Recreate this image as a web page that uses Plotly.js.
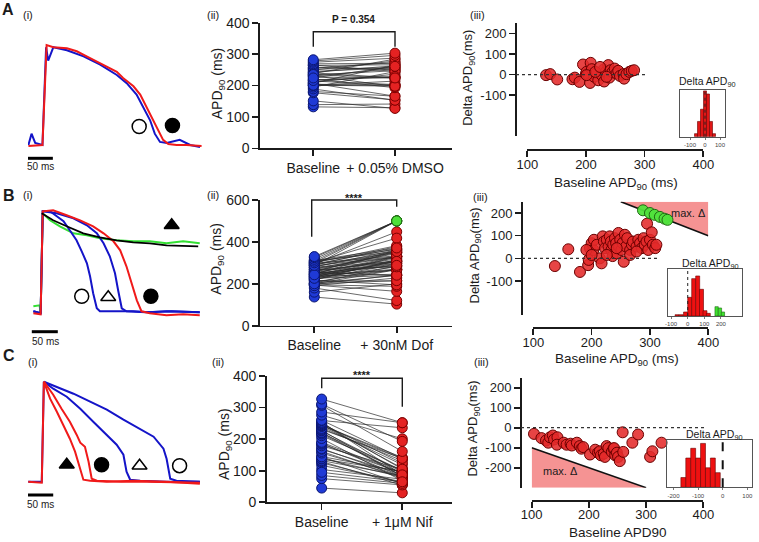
<!DOCTYPE html>
<html><head><meta charset="utf-8">
<script src="https://cdn.plot.ly/plotly-3.0.1.min.js"></script>
<style>html,body{margin:0;padding:0;background:#fff}#chart{width:759px;height:542px}</style>
</head><body><div id="chart"></div>
<script>
// ================= DATA =================
// Panel A(i): action potential traces (time ms, % amplitude)
const A_blue_t=[-28,-22,-15,-1,6,10,20,46,78,110,142,161,180,193,206,215,225,238,263,283,302];
const A_blue_v=[1,12,3,1,96,83,96,93,87,79,69,61,50,38,25,12,4,3,6,1,-1];
const A_red_t=[-28,-1,7,20,46,65,84,103,122,142,154,174,187,199,212,222,231,241,257,276,305];
const A_red_v=[0,1,98,96,95,92,87,82,77,72,66,58,50,38,25,14,6,2,1,1,0];
const A_sym_t=[185,249], A_sym_v=[19,20], A_sym=['circle-open','circle'];
// Panel B(i)
const B_blue1_t=[-16,-2,2,16,29,42,54,67,77,87,93,99,106,112,144,176,208,240,304];
const B_blue1_v=[2,0,102,102,97,92,83,73,62,50,37,20,5,2,2,2,1,2,1];
const B_blue2_t=[-16,-2,2,29,61,87,106,119,131,141,147,154,163,200,250,304];
const B_blue2_v=[2,0,102,100,95,88,80,70,57,40,23,5,2,1,2,1];
const B_red_t=[-16,-2,2,22,48,74,99,119,138,151,163,173,183,192,208,240,272,304];
const B_red_v=[0,-1,102,103,98,93,87,80,72,63,47,30,13,2,0,-2,-1,-2];
const B_green_t=[-16,-4,-2,2,16,35,61,87,112,144,176,208,240,272,304];
const B_green_v=[7,8,0,100,93,87,80,78,75,73,72,72,70,72,70];
const B_fit_t=[0,22,48,80,112,144,176,208,240,301];
const B_fit_v=[100,93,87,80,76,73,71,70,68,67];
const B_sym_t=[77,128,210,250], B_sym_v=[17,16,17,88], B_sym=['circle-open','triangle-up-open','circle','triangle-up'];
// Panel C(i)
const C_red1_t=[-29,-3,1,13,26,38,51,61,71,77,90,122,173,237,301];
const C_red1_v=[0,-1,100,83,70,57,43,30,13,2,1,0,1,0,-2];
const C_red2_t=[1,19,35,51,64,71,80,87,93,103,150,200,301];
const C_red2_v=[100,87,73,60,47,39,35,20,3,1,0,0,-1];
const C_blue1_t=[-29,-3,1,19,45,71,96,122,141,154,160,167,186,237,301];
const C_blue1_v=[0,0,100,93,85,73,60,47,37,27,10,2,1,0,0];
const C_blue2_t=[1,26,58,90,122,154,186,212,231,237,244,256,301];
const C_blue2_v=[100,95,88,80,72,62,53,45,33,23,3,1,0];
const C_sym_t=[45,112,185,262], C_sym_v=[17,17,16,16], C_sym=['triangle-up','circle','triangle-up-open','circle-open'];

// Panel A (ii)/(iii): baseline APD90 and delta APD90 (ms)
const A_groups=['Baseline','+ 0.05% DMSO'];
const A_base=[132,139,151,177,181,189,195,200,201,204,208,207,210,214,218,221,227,230,231,234,238,240,242,245,249,252,255,258,264,265,269,274,278,282,201,216,235,224];
const A_delta=[-3,2,-24,-23,-15,-36,49,2,13,-3,57,-41,26,-11,8,-28,-3,24,-34,13,46,-15,21,11,29,5,18,-7,2,-20,2,13,18,21,-3,13,-11,37];
// Panel B
const B_groups=['Baseline','+ 30nM Dof'];
const B_base=[137,160,180,194,195,197,200,203,204,209,214,217,219,221,223,226,229,231,233,234,236,237,240,242,243,246,247,249,251,253,255,257,259,261,266,269,271,277,280,283,286,289,291,294,295,297,300,303,305,309,311,191,200,226,266,277,243];
const B_delta=[-34,40,-60,-30,-7,45,67,37,82,60,0,-22,97,74,45,82,52,97,74,37,10,60,89,67,22,112,52,82,37,67,-15,104,52,89,37,60,74,52,82,67,45,89,60,74,153,37,82,115,60,45,60,37,15,15,15,30,45];
const B_gbase=[288,300,308,317,325,330];
const B_gdelta=[212,200,192,183,175,170];
const B_maxTri_x=[250,400,400], B_maxTri_y=[250,250,100];
// Panel C
const C_groups=['Baseline','+ 1\u03bcM Nif'];
const C_base=[104,117,125,129,132,137,139,145,144,156,161,168,170,179,184,187,190,202,211,216,219,221,226,228,231,234,240,243,244,246,249,251,254,259,260,276,286,307,311,327,45,75,85,95];
const C_delta=[-31,-52,-64,-75,-48,-39,-59,-48,-85,-75,-85,-80,-89,-75,-92,-105,-97,-134,-110,-125,-118,-138,-130,-146,-92,-102,-121,-105,-102,-138,-125,-146,-167,-23,-121,-75,-34,-146,-118,-75,-15,-20,-25,-30];
const C_maxTri_x=[100,100,300], C_maxTri_y=[-100,-300,-300];

// Inset histograms of delta APD90
const HA_x=[-60,-40,-20,0,20,40,60], HA_n=[1,5,9,15,14,5,1];
const HB_x=[-64,-39,-13,12,36,60,83,104,124], HB_n=[1,1,3,14,28,30,20,4,2];
const HB_gx=[174,194,212], HB_gn=[7,6,3];
const HC_x=[-160,-140,-120,-100,-80,-60,-40,-20], HC_n=[2,6,8,6,9,4,6,3];

// ================= BUILD =================
const W=759,H=542;
const FX=v=>v/W, FY=v=>1-v/H;
const xd=(a,b)=>[a/W,b/W];
const yd=(t,b)=>[1-b/H,1-t/H];
const FONT='"Liberation Sans", Arial, Helvetica, sans-serif';
const INK='#1b1b1b';
const id=n=>n===1?'':String(n);
const BLUE='#1414c8', RED='#f01a1a', GREEN='#33e033';

const traces=[];
function line(t,v,ax,color,w){traces.push({type:'scatter',mode:'lines',x:t,y:v,xaxis:'x'+id(ax),yaxis:'y'+id(ax),line:{color:color,width:w||2},hoverinfo:'skip'});}
function syms(t,v,s,ax){traces.push({type:'scatter',mode:'markers',x:t,y:v,xaxis:'x'+id(ax),yaxis:'y'+id(ax),cliponaxis:false,
  marker:{symbol:s,size:s.map(q=>q.indexOf('triangle')>=0?13:14),opacity:1,color:'#000',line:{color:'#000',width:1.5}},hoverinfo:'skip'});}
function paired(base,after,groups,ax){
  const x=[],y=[];
  for(let i=0;i<base.length;i++){x.push(groups[0],groups[1],null);y.push(base[i],after[i],null);}
  traces.push({type:'scatter',mode:'lines',x:x,y:y,xaxis:'x'+id(ax),yaxis:'y'+id(ax),line:{color:'#2a2a2a',width:0.7},connectgaps:false,hoverinfo:'skip'});
}
function groupPts(vals,group,ax,fill,edge,size){
  traces.push({type:'scatter',mode:'markers',x:vals.map(()=>group),y:vals,xaxis:'x'+id(ax),yaxis:'y'+id(ax),cliponaxis:false,
    marker:{size:size||10,opacity:1,color:fill,line:{color:edge,width:1}},hoverinfo:'skip'});
}
function scat(xv,yv,ax,fill,edge){
  traces.push({type:'scatter',mode:'markers',x:xv,y:yv,xaxis:'x'+id(ax),yaxis:'y'+id(ax),cliponaxis:false,
    marker:{size:11,opacity:1,color:fill,line:{color:edge,width:1}},hoverinfo:'skip'});
}
function hist(xv,n,w,ax,fill,edge){
  traces.push({type:'bar',x:xv,y:n,width:w,xaxis:'x'+id(ax),yaxis:'y'+id(ax),marker:{color:fill,line:{color:edge,width:0.6}},hoverinfo:'skip'});
}

// (i) traces
line(A_blue_t,A_blue_v,1,BLUE); line(A_red_t,A_red_v,1,RED); syms(A_sym_t,A_sym_v,A_sym,1);
line(B_green_t,B_green_v,5,GREEN); line(B_blue1_t,B_blue1_v,5,BLUE); line(B_blue2_t,B_blue2_v,5,BLUE);
line(B_red_t,B_red_v,5,RED); line(B_fit_t,B_fit_v,5,'#000',1.8); syms(B_sym_t,B_sym_v,B_sym,5);
line(C_blue1_t,C_blue1_v,9,BLUE); line(C_blue2_t,C_blue2_v,9,BLUE);
line(C_red1_t,C_red1_v,9,RED); line(C_red2_t,C_red2_v,9,RED); syms(C_sym_t,C_sym_v,C_sym,9);

// (ii) paired plots
const A_after=A_base.map((b,i)=>b+A_delta[i]);
const B_after=B_base.map((b,i)=>b+B_delta[i]);
const B_gafter=B_gbase.map((b,i)=>b+B_gdelta[i]);
const C_after=C_base.map((b,i)=>b+C_delta[i]);
const BLUEM='#1f3ad6', BLUEE='#0b1670', REDM='#e42222', REDE='#7a0000', GRM='#4ee03a', GRE='#1f6a12';
paired(A_base,A_after,A_groups,2); groupPts(A_base,A_groups[0],2,BLUEM,BLUEE); groupPts(A_after,A_groups[1],2,REDM,REDE);
paired(B_base.concat(B_gbase),B_after.concat(B_gafter),B_groups,6); groupPts(B_base.concat(B_gbase),B_groups[0],6,BLUEM,BLUEE);
groupPts(B_after,B_groups[1],6,REDM,REDE); groupPts(B_gafter,B_groups[1],6,GRM,GRE);
paired(C_base,C_after,C_groups,10); groupPts(C_base,C_groups[0],10,BLUEM,BLUEE); groupPts(C_after,C_groups[1],10,REDM,REDE);

// (iii) scatter
const SRED='rgba(228,42,42,0.88)', SEDGE='#6a0000';
scat(A_base,A_delta,3,SRED,SEDGE);
scat(B_base,B_delta,7,SRED,SEDGE); scat(B_gbase,B_gdelta,7,'rgba(80,225,60,0.95)',GRE);
scat(C_base,C_delta,11,SRED,SEDGE);

// insets
hist(HA_x,HA_n,20,4,'#e01616','#6a0000');
hist(HB_x,HB_n,24,8,'#ee1111','#6a0000'); hist(HB_gx,HB_gn,20,8,'#3fe02f','#1f6a12');
hist(HC_x,HC_n,20,12,'#ee1111','#6a0000');

// ---- layout ----
const layout={width:W,height:H,margin:{l:0,r:0,t:0,b:0},paper_bgcolor:'#fff',plot_bgcolor:'rgba(0,0,0,0)',
  showlegend:false,barmode:'overlay',font:{family:FONT,color:INK},shapes:[],annotations:[],hovermode:false};

function hidden(dom,range,anchor){return {domain:dom,range:range,anchor:anchor,visible:false,fixedrange:true};}
function catX(dom,range,anchor,cats){return {type:'category',categoryorder:'array',categoryarray:cats,domain:dom,range:range,anchor:anchor,
  showline:true,linecolor:INK,linewidth:1.6,ticks:'outside',ticklen:6,tickwidth:1.6,tickcolor:INK,tickfont:{size:14,color:INK},
  showgrid:false,zeroline:false,fixedrange:true};}
function numAx(dom,range,anchor,tickvals,size,pos,stand){const a={domain:dom,range:range,anchor:anchor,showline:true,linecolor:INK,linewidth:1.6,
  ticks:'outside',ticklen:6,tickwidth:1.6,tickcolor:INK,tickvals:tickvals,ticktext:tickvals.map(String),tickfont:{size:size,color:INK},
  showgrid:false,zeroline:false,fixedrange:true};
  if(pos!==undefined){a.anchor='free';a.position=pos;}
  if(stand!==undefined){a.ticklabelstandoff=stand;}
  return a;}
function insX(dom,range,anchor,tickvals){return {domain:dom,range:range,anchor:anchor,showline:true,mirror:true,linecolor:'#555',linewidth:1,
  ticks:'outside',ticklen:2,tickwidth:0.8,tickcolor:'#555',tickvals:tickvals,ticktext:tickvals.map(String),tickfont:{size:6,color:'#444'},
  showgrid:false,zeroline:false,fixedrange:true};}
function insY(dom,range,anchor){return {domain:dom,range:range,anchor:anchor,showline:true,mirror:true,linecolor:'#555',linewidth:1,
  ticks:'',showticklabels:false,showgrid:false,zeroline:false,fixedrange:true};}

// A
layout.xaxis=hidden(xd(28,202),[-28.8,305.8],'y');
layout.yaxis=hidden(yd(38,152),[-5.8,104.9],'x');
layout.xaxis2=catX(xd(260,452),[-0.652,1.698],'y2',A_groups);
layout.yaxis2=numAx(yd(22.7,148.3),[0,400],'x2',[0,100,200,300,400],14);
layout.xaxis3=numAx(xd(527.3,703.3),[100,400],'y3',[100,200,300,400],13,FY(149.3),-4);
layout.yaxis3=numAx(yd(23.3,136),[-300,250],'x3',[-100,0,100,200],13,FX(515));
layout.xaxis4=insX(xd(680,725),[-166.7,133.3],'y4',[-100,0,100]);
layout.yaxis4=insY(yd(90,136.7),[0,15.3],'x4');
// B
layout.xaxis5=hidden(xd(28,202),[-26.3,308.3],'y5');
layout.yaxis5=hidden(yd(205,320),[-6.7,108.3],'x5');
layout.xaxis6=catX(xd(260,452),[-0.659,1.671],'y6',B_groups);
layout.yaxis6=numAx(yd(200,325.7),[0,600],'x6',[0,200,400,600],14);
layout.xaxis7=numAx(xd(533.3,708.3),[100,400],'y7',[100,200,300,400],13,FY(327.3),-4);
layout.yaxis7=numAx(yd(201.7,315),[-250,250],'x7',[-100,0,100,200],13,FX(521));
layout.xaxis8=insX(xd(667.7,741.7),[-120.5,325],'y8',[-100,0,100,200]);
layout.yaxis8=insY(yd(269.3,316),[0,35],'x8');
// C
layout.xaxis9=hidden(xd(28,202),[-29.5,305.1],'y9');
layout.yaxis9=hidden(yd(375,490),[-8.3,106.7],'x9');
layout.xaxis10=catX(xd(266.7,452),[-0.682,1.617],'y10',C_groups);
layout.yaxis10=numAx(yd(376,502.3),[0,400],'x10',[0,100,200,300,400],14);
layout.xaxis11=numAx(xd(531.7,703.3),[100,400],'y11',[100,200,300,400],13,FY(500),-4);
layout.yaxis11=numAx(yd(377.7,487.7),[-300,250],'x11',[-200,-100,0,100,200],13,FX(520));
layout.xaxis12=insX(xd(667.3,751.7),[-225.2,117.9],'y12',[-200,-100,0,100]);
layout.yaxis12=insY(yd(440,487.3),[0,9.7],'x12');

// ---- shapes ----
const S=layout.shapes;
// scale bars (50 ms)
S.push({type:'line',xref:'x',yref:'paper',x0:-31,x1:19,y0:FY(158.3),y1:FY(158.3),line:{color:'#000',width:3}});
S.push({type:'line',xref:'x5',yref:'paper',x0:-19,x1:31,y0:FY(331.7),y1:FY(331.7),line:{color:'#000',width:3}});
S.push({type:'line',xref:'x9',yref:'paper',x0:-31,x1:19,y0:FY(495),y1:FY(495),line:{color:'#000',width:3}});
// significance brackets
function bracket(xl,xr,yt,yl,yr){S.push({type:'path',xref:'paper',yref:'paper',
  path:`M${FX(xl)},${FY(yl)} L${FX(xl)},${FY(yt)} L${FX(xr)},${FY(yt)} L${FX(xr)},${FY(yr)}`,line:{color:INK,width:1.4}});}
bracket(313.3,395,31.7,46.7,46.7);
bracket(311.7,396.7,200,236.7,206.7);
bracket(321.7,402.3,378.3,388.3,406.7);
// zero reference lines
S.push({type:'line',xref:'paper',yref:'y3',x0:FX(516),x1:FX(646),y0:0,y1:0,line:{color:'#333',width:1.2,dash:'dot'}});
S.push({type:'line',xref:'paper',yref:'y7',x0:FX(522),x1:FX(660),y0:0,y1:0,line:{color:'#333',width:1.2,dash:'dot'}});
S.push({type:'line',xref:'paper',yref:'y11',x0:FX(521),x1:FX(707),y0:0,y1:0,line:{color:'#333',width:1.2,dash:'dot'}});
// max delta triangles
S.push({type:'path',xref:'x7',yref:'y7',layer:'below',path:`M${B_maxTri_x[0]},${B_maxTri_y[0]} L${B_maxTri_x[1]},${B_maxTri_y[1]} L${B_maxTri_x[2]},${B_maxTri_y[2]} Z`,fillcolor:'#f59393',line:{width:0}});
S.push({type:'line',xref:'x7',yref:'y7',layer:'below',x0:B_maxTri_x[0],y0:B_maxTri_y[0],x1:B_maxTri_x[2],y1:B_maxTri_y[2],line:{color:'#111',width:1.6}});
S.push({type:'path',xref:'x11',yref:'y11',layer:'below',path:`M${C_maxTri_x[0]},${C_maxTri_y[0]} L${C_maxTri_x[1]},${C_maxTri_y[1]} L${C_maxTri_x[2]},${C_maxTri_y[2]} Z`,fillcolor:'#f59393',line:{width:0}});
S.push({type:'line',xref:'x11',yref:'y11',layer:'below',x0:C_maxTri_x[0],y0:C_maxTri_y[0],x1:C_maxTri_x[2],y1:C_maxTri_y[2],line:{color:'#111',width:1.6}});
// inset zero lines
S.push({type:'line',xref:'x4',yref:'paper',x0:0,x1:0,y0:FY(136.7),y1:FY(90),line:{color:'#222',width:1,dash:'dot'}});
S.push({type:'line',xref:'x8',yref:'paper',x0:0,x1:0,y0:FY(316),y1:FY(269.3),line:{color:'#222',width:1,dash:'dot'}});
S.push({type:'line',xref:'x12',yref:'paper',x0:0,x1:0,y0:FY(487.3),y1:FY(440),line:{color:'#111',width:2,dash:'dash'}});

// ---- annotations ----
function ann(text,x,y,size,opt){const a=Object.assign({text:text,xref:'paper',yref:'paper',x:FX(x),y:FY(y),xanchor:'center',yanchor:'middle',
  showarrow:false,font:{family:FONT,size:size,color:INK}},opt||{});layout.annotations.push(a);}
ann('<b>A</b>',7.5,10,16); ann('<b>B</b>',8.5,195,16); ann('<b>C</b>',8.5,355,16);
ann('(i)',28.3,15,11); ann('(ii)',213.3,15,11); ann('(iii)',477.3,15,11);
ann('(i)',28.3,195,11); ann('(ii)',213.3,195,11); ann('(iii)',480,196.7,11);
ann('(i)',33.3,361.7,11); ann('(ii)',218.3,361.7,11); ann('(iii)',481.7,361.7,11);
ann('50 ms',40,166,10); ann('50 ms',45.7,341.7,10); ann('50 ms',40,504.3,10);
ann('<b>P = 0.354</b>',353,19.3,10);
ann('<b>****</b>',354,198,11); ann('<b>****</b>',361.7,375,11);
ann('APD<sub>90</sub> (ms)',218.3,83,14,{textangle:-90});
ann('APD<sub>90</sub> (ms)',216.7,259,14,{textangle:-90});
ann('APD<sub>90</sub> (ms)',225,444,14,{textangle:-90});
ann('Delta APD<sub>90</sub>(ms)',468.3,77.5,13,{textangle:-90});
ann('Delta APD<sub>90</sub>(ms)',475,255.5,13,{textangle:-90});
ann('Delta APD<sub>90</sub>(ms)',473.3,428.3,13,{textangle:-90});
ann('Baseline APD<sub>90</sub> (ms)',616,183,13.5);
ann('Baseline APD<sub>90</sub> (ms)',616.7,359,13.5);
ann('Baseline APD90',618,532,13.5);
ann('max. \u0394',688.3,213.3,11); ann('max. \u0394',560,471,11);
ann('Delta APD<sub>90</sub>',707.5,82,10.5);
ann('Delta APD<sub>90</sub>',710.8,264,10.5);
ann('Delta APD<sub>90</sub>',714,435,10.5);

Plotly.newPlot('chart',traces,layout,{staticPlot:true,displayModeBar:false});
</script></body></html>
